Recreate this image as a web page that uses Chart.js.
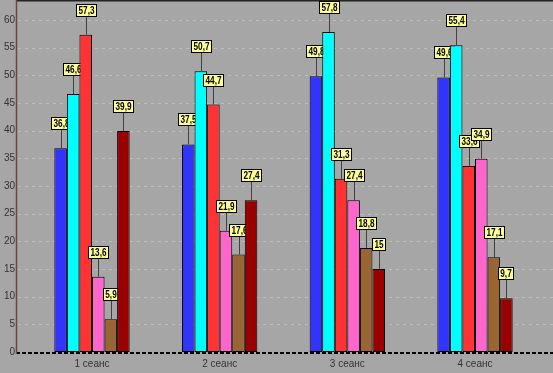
<!DOCTYPE html>
<html>
<head>
<meta charset="utf-8">
<script src="https://cdn.jsdelivr.net/npm/chart.js@4.4.1/dist/chart.umd.min.js"></script>
<style>
  html, body { margin: 0; padding: 0; background: #a6a6a6; }
  #wrap { width: 553px; height: 373px; }
</style>
</head>
<body>
<div id="wrap"><canvas id="c" width="553" height="373"></canvas></div>
<script>
// ---- data ----
const categories = ['1 сеанс', '2 сеанс', '3 сеанс', '4 сеанс'];
const blueSeries    = [36.8, 37.5, 49.8, 49.6];
const cyanSeries    = [46.6, 50.7, 57.8, 55.4];
const redSeries     = [57.3, 44.7, 31.3, 33.6];
const pinkSeries    = [13.6, 21.9, 27.4, 34.9];
const brownSeries   = [5.9, 17.6, 18.8, 17.1];
const darkRedSeries = [39.9, 27.4, 15, 9.7];
const yTickValues   = [0, 5, 10, 15, 20, 25, 30, 35, 40, 45, 50, 55, 60];

const seriesList = [blueSeries, cyanSeries, redSeries, pinkSeries, brownSeries, darkRedSeries];
const seriesColors = ['#3333ff', '#00ffff', '#ff3333', '#ff66cc', '#996633', '#990000'];

const datasets = seriesList.map((s, i) => ({
  data: s.map((v, j) => ({ x: j, y: v })),
  backgroundColor: seriesColors[i],
  borderColor: '#000000',
  borderWidth: 1,
  borderSkipped: false,
  categoryPercentage: 0.59,
  barPercentage: 1.0
}));

const fmt = v => String(v).replace('.', ',');

const bgPlugin = {
  id: 'bg',
  beforeDraw(chart) {
    const ctx = chart.ctx;
    ctx.save();
    ctx.fillStyle = '#a6a6a6';
    ctx.fillRect(0, 0, chart.width, chart.height);
    ctx.restore();
  }
};

const gridPlugin = {
  id: 'gridDraw',
  beforeDatasetsDraw(chart) {
    const ctx = chart.ctx, a = chart.chartArea, y = chart.scales.y;
    ctx.save();
    ctx.strokeStyle = '#bdbdbd';
    ctx.lineWidth = 1;
    ctx.setLineDash([3, 4]);
    yTickValues.forEach(v => {
      if (v === 0) return;
      const py = Math.round(y.getPixelForValue(v)) + 0.5;
      ctx.beginPath();
      ctx.moveTo(a.left + 2, py);
      ctx.lineTo(a.right, py);
      ctx.stroke();
    });
    ctx.setLineDash([]);
    ctx.strokeStyle = '#222222';
    ctx.lineWidth = 2;
    ctx.beginPath();
    ctx.moveTo(a.left, 0.5);
    ctx.lineTo(a.right, 0.5);
    ctx.stroke();
    ctx.restore();
  },
  afterDraw(chart) {
    const ctx = chart.ctx, a = chart.chartArea, y = chart.scales.y;
    ctx.save();
    const py0 = y.getPixelForValue(0);
    ctx.strokeStyle = '#000000';
    ctx.lineWidth = 2;
    ctx.setLineDash([4, 2]);
    ctx.beginPath();
    ctx.moveTo(a.left, py0 + 1);
    ctx.lineTo(a.right, py0 + 1);
    ctx.stroke();
    ctx.setLineDash([]);
    ctx.strokeStyle = '#6e4444';
    ctx.lineWidth = 1.5;
    ctx.beginPath();
    ctx.moveTo(a.left + 0.5, 0);
    ctx.lineTo(a.left + 0.5, py0 + 2);
    ctx.stroke();
    ctx.restore();
  }
};

function drawLabels(chart, meta, ds) {
  const ctx = chart.ctx;
  ctx.save();
  ctx.font = "bold 10px Arial, 'Liberation Sans', sans-serif";
  ctx.textAlign = 'center';
  ctx.textBaseline = 'middle';
  const squeeze = 0.82;
  meta.data.forEach((bar, j) => {
    const v = ds.data[j].y;
    const text = fmt(v);
    const tw = ctx.measureText(text).width * squeeze;
    const bw = Math.round(tw + 5);
    const bh = 13;
    const cx = Math.round(bar.x);
    const top = bar.y;
    const boxBottom = Math.round(top - 18);
    const boxTop = boxBottom - bh;
    const boxLeft = Math.round(cx - bw / 2);
    ctx.strokeStyle = '#404040';
    ctx.lineWidth = 1;
    ctx.beginPath();
    ctx.moveTo(cx + 0.5, boxBottom);
    ctx.lineTo(cx + 0.5, top);
    ctx.stroke();
    ctx.fillStyle = '#ffff99';
    ctx.fillRect(boxLeft, boxTop, bw, bh);
    ctx.strokeStyle = '#000000';
    ctx.strokeRect(boxLeft + 0.5, boxTop + 0.5, bw - 1, bh - 1);
    ctx.fillStyle = '#000000';
    ctx.save();
    ctx.translate(boxLeft + bw / 2, boxTop + bh / 2 + 0.5);
    ctx.scale(squeeze, 1);
    ctx.fillText(text, 0, 0);
    ctx.restore();
  });
  ctx.restore();
}

const orderedDrawPlugin = {
  id: 'orderedDraw',
  beforeDatasetsDraw(chart) {
    const ctx = chart.ctx, a = chart.chartArea;
    const n = chart.data.datasets.length;
    for (let i = 0; i < n; i++) {
      const meta = chart.getDatasetMeta(i);
      if (!meta.visible) continue;
      ctx.save();
      ctx.beginPath();
      ctx.rect(a.left, 0, a.right - a.left, a.bottom + 2);
      ctx.clip();
      meta.controller.draw();
      ctx.restore();
      drawLabels(chart, meta, chart.data.datasets[i]);
    }
    return false;
  }
};

const firstCenter = 92;
const catSpacing = 127.67;
const areaLeft = 16, areaRight = 553;

new Chart(document.getElementById('c'), {
  type: 'bar',
  data: { datasets },
  options: {
    responsive: false,
    devicePixelRatio: 1,
    animation: false,
    layout: { padding: { top: 1, left: 0, right: 0, bottom: 0 } },
    plugins: { legend: { display: false }, tooltip: { enabled: false } },
    scales: {
      x: {
        type: 'linear',
        offset: false,
        min: (areaLeft - firstCenter) / catSpacing,
        max: (areaRight - firstCenter) / catSpacing,
        afterBuildTicks: s => { s.ticks = categories.map((c, i) => ({ value: i })); },
        afterFit: s => { s.height = 21; s.paddingLeft = 0; s.paddingRight = 0; },
        grid: { display: false, drawTicks: false, offset: false },
        border: { display: false },
        ticks: {
          autoSkip: false, maxRotation: 0, padding: 6,
          color: '#333333',
          font: { family: 'Arial, "Liberation Sans", sans-serif', size: 10 },
          callback: v => categories[v]
        }
      },
      y: {
        min: 0,
        max: 63.4,
        afterBuildTicks: s => { s.ticks = yTickValues.map(v => ({ value: v })); },
        afterFit: s => { s.width = 16; s.paddingTop = 0; s.paddingBottom = 0; },
        grid: { display: false, drawTicks: false },
        border: { display: false },
        ticks: {
          padding: 1,
          color: '#333333',
          font: { family: 'Arial, "Liberation Sans", sans-serif', size: 10 }
        }
      }
    }
  },
  plugins: [bgPlugin, gridPlugin, orderedDrawPlugin]
});
</script>
</body>
</html>
